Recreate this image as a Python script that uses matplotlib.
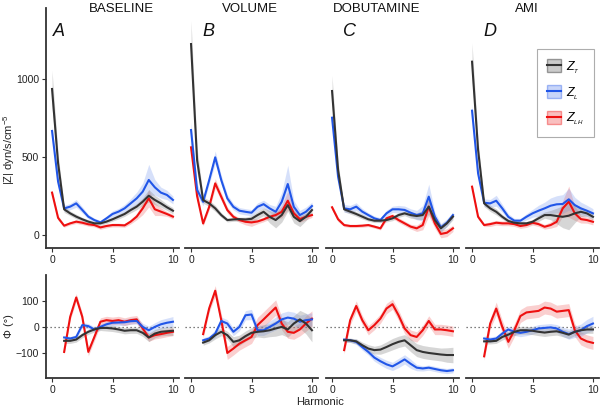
import matplotlib
matplotlib.use("Agg")
import matplotlib.pyplot as plt
from matplotlib.patches import Patch
from matplotlib.lines import Line2D

plt.rcParams['font.family'] = ['Liberation Sans', 'DejaVu Sans']
plt.rcParams['mathtext.fontset'] = 'custom'
plt.rcParams['mathtext.it'] = 'Liberation Sans:italic'
plt.rcParams['mathtext.rm'] = 'Liberation Sans'

# ---------------- data ----------------
conditions = ["BASELINE", "VOLUME", "DOBUTAMINE", "AMI"]
letters = ["A", "B", "C", "D"]
series_names = ["Z_T", "Z_L", "Z_LH"]

harm_mag = [0, 0.5, 1, 1.5, 2, 2.5, 3, 3.5, 4, 4.5, 5, 5.5, 6, 6.5, 7, 7.5, 8, 8.5, 9, 9.5, 10]
harm_ph = [1, 1.5, 2, 2.5, 3, 3.5, 4, 4.5, 5, 5.5, 6, 6.5, 7, 7.5, 8, 8.5, 9, 9.5, 10]

# |Z| magnitude (dyn/s/cm^-5)
magT_A = [936, 460, 165, 139, 118, 101, 86, 75, 75, 86, 101, 118, 135, 160, 182, 214, 252, 225, 203, 178, 156]
magL_A = [667, 342, 171, 182, 203, 161, 118, 96, 81, 107, 135, 150, 171, 203, 235, 278, 353, 306, 272, 257, 225]
magLH_A = [272, 110, 60, 75, 86, 79, 69, 64, 49, 58, 64, 64, 62, 86, 118, 171, 235, 165, 150, 135, 118]

magT_B = [1224, 480, 224, 203, 171, 128, 96, 100, 102, 100, 104, 128, 149, 117, 96, 128, 192, 117, 89, 117, 160]
magL_B = [673, 290, 213, 352, 498, 352, 235, 181, 156, 149, 143, 181, 198, 171, 149, 213, 327, 181, 128, 149, 186]
magLH_B = [562, 250, 74, 181, 331, 245, 160, 117, 96, 85, 81, 87, 100, 117, 128, 149, 220, 139, 102, 117, 128]

magT_C = [923, 417, 165, 150, 135, 118, 101, 92, 92, 96, 107, 128, 139, 128, 122, 128, 182, 96, 43, 75, 118]
magL_C = [752, 374, 171, 165, 182, 150, 128, 107, 96, 139, 165, 165, 161, 143, 128, 139, 246, 118, 49, 79, 128]
magLH_C = [178, 101, 64, 58, 58, 60, 64, 54, 43, 107, 122, 96, 75, 54, 43, 64, 182, 75, 7, 15, 43]

magT_D = [1111, 545, 203, 171, 149, 117, 90, 79, 75, 75, 85, 107, 128, 128, 122, 117, 124, 139, 149, 139, 117]
magL_D = [797, 395, 207, 203, 220, 171, 117, 92, 92, 117, 139, 156, 171, 188, 197, 199, 229, 192, 171, 156, 139]
magLH_D = [310, 117, 64, 70, 79, 75, 75, 70, 58, 64, 79, 70, 53, 64, 85, 171, 214, 139, 102, 96, 85]

# ribbon half-widths for |Z|
sdT_A = [120, 60, 20, 15, 15, 12, 12, 12, 12, 12, 12, 15, 15, 18, 20, 25, 40, 30, 25, 20, 20]
sdL_A = [30, 30, 20, 20, 25, 20, 15, 12, 12, 15, 20, 20, 25, 30, 40, 55, 100, 50, 35, 30, 25]
sdLH_A = [15, 15, 10, 10, 12, 12, 12, 12, 12, 12, 12, 12, 12, 15, 20, 40, 55, 40, 25, 15, 15]
sdT_B = [150, 80, 20, 20, 20, 15, 12, 12, 12, 15, 20, 25, 25, 40, 50, 45, 40, 40, 35, 25, 20]
sdL_B = [50, 40, 25, 25, 40, 30, 25, 20, 20, 20, 20, 25, 25, 25, 35, 60, 120, 40, 30, 30, 25]
sdLH_B = [40, 30, 15, 20, 30, 25, 20, 15, 15, 20, 25, 15, 15, 15, 20, 40, 60, 30, 20, 20, 15]
sdT_C = [100, 50, 15, 15, 15, 15, 12, 12, 12, 12, 15, 15, 15, 20, 20, 30, 50, 30, 25, 20, 20]
sdL_C = [30, 30, 25, 25, 25, 20, 15, 15, 15, 20, 20, 25, 25, 25, 30, 50, 80, 30, 25, 25, 20]
sdLH_C = [15, 15, 10, 10, 10, 10, 10, 10, 10, 15, 15, 15, 15, 15, 20, 30, 60, 30, 25, 25, 20]
sdT_D = [120, 60, 20, 20, 20, 15, 12, 12, 12, 12, 15, 20, 20, 30, 50, 70, 90, 60, 30, 20, 20]
sdL_D = [40, 30, 25, 25, 35, 25, 20, 15, 15, 20, 25, 35, 40, 50, 55, 60, 70, 50, 40, 35, 30]
sdLH_D = [20, 15, 10, 15, 15, 15, 15, 15, 15, 15, 15, 15, 15, 20, 30, 50, 100, 45, 25, 20, 20]

# phase (degrees)
phT_A = [-54, -54, -49, -32, -19, -10, -4, -4, -6, -10, -15, -13, -13, -23, -41, -26, -19, -17, -15]
phL_A = [-41, -45, -39, 7, 3, -10, 0, 10, 16, 17, 18, 22, 23, 0, -13, 0, 10, 16, 20]
phLH_A = [-97, 39, 114, 39, -97, -39, 20, 26, 23, 26, 20, 26, 29, -6, -41, -32, -28, -23, -19]

phT_B = [-61, -52, -32, -19, -32, -58, -52, -36, -23, -19, -17, -13, -6, 0, -10, 13, 29, 13, -13]
phL_B = [-52, -45, -26, 23, 13, -19, 0, 45, 48, -13, -13, 0, 13, 29, 36, 32, 20, 26, 29]
phLH_B = [-28, 72, 140, 26, -101, -84, -65, -52, -39, 7, 29, 52, 75, 13, -19, -23, -10, 13, 32]

phT_C = [-52, -52, -56, -71, -84, -90, -88, -78, -67, -58, -52, -71, -90, -97, -101, -104, -107, -109, -109]
phL_C = [-49, -52, -58, -78, -97, -119, -133, -145, -153, -140, -126, -143, -158, -161, -158, -163, -168, -171, -168]
phLH_C = [-90, 26, 81, 26, -13, 7, 32, 71, 88, 45, -6, -32, -39, -13, 23, -10, -10, -13, -17]

phT_D = [-56, -56, -54, -39, -30, -19, -13, -13, -15, -19, -22, -19, -17, -23, -30, -19, -13, -10, -10]
phL_D = [-45, -49, -45, -26, -10, -19, -23, -19, -13, -6, -4, -2, -6, -19, -28, -19, -13, 3, 13]
phLH_D = [-114, 13, 71, 0, -58, -13, 42, 56, 59, 62, 75, 71, 59, 62, 65, -13, -45, -56, -62]

# ribbon half-widths for phase
psdT_A = [10, 10, 10, 10, 10, 10, 10, 12, 12, 12, 12, 12, 12, 14, 16, 16, 16, 16, 18]
psdL_A = [8, 8, 8, 10, 10, 10, 10, 10, 12, 12, 12, 12, 12, 14, 16, 16, 18, 18, 20]
psdLH_A = [10, 12, 15, 15, 15, 15, 15, 15, 15, 15, 15, 15, 15, 15, 15, 15, 15, 15, 15]
psdT_B = [10, 10, 15, 15, 15, 20, 20, 20, 20, 20, 25, 25, 30, 30, 30, 30, 35, 40, 45]
psdL_B = [10, 10, 15, 15, 15, 15, 15, 18, 20, 20, 20, 22, 25, 25, 25, 25, 25, 25, 25]
psdLH_B = [15, 15, 20, 25, 25, 25, 25, 25, 25, 30, 30, 30, 30, 25, 25, 25, 25, 30, 30]
psdT_C = [8, 8, 10, 12, 15, 15, 18, 20, 22, 22, 22, 25, 25, 25, 25, 25, 25, 28, 30]
psdL_C = [8, 8, 10, 12, 12, 14, 15, 16, 16, 18, 18, 18, 12, 10, 10, 10, 10, 10, 10]
psdLH_C = [15, 18, 20, 18, 18, 18, 18, 20, 20, 20, 20, 20, 20, 20, 20, 20, 20, 20, 20]
psdT_D = [10, 10, 10, 12, 12, 14, 15, 15, 15, 15, 15, 15, 15, 15, 15, 15, 15, 15, 15]
psdL_D = [10, 10, 10, 12, 12, 14, 15, 15, 15, 15, 15, 15, 15, 18, 20, 22, 24, 26, 28]
psdLH_D = [15, 20, 25, 25, 25, 25, 25, 25, 25, 25, 25, 25, 25, 25, 25, 25, 25, 25, 25]

mag_ticks = [0, 500, 1000]
ph_ticks = [-100, 0, 100]
x_ticks = [0, 5, 10]

# ---------------- styling ----------------
colors = {"Z_T": "#333333", "Z_L": "#2156e8", "Z_LH": "#ee1010"}
fills = {"Z_T": ("#8c8c8c", 0.35), "Z_L": ("#6f93f0", 0.28), "Z_LH": ("#f06060", 0.30)}
labels = {"Z_T": r"$Z_{_T}$", "Z_L": r"$Z_{_L}$", "Z_LH": r"$Z_{_{LH}}$"}

mag = {
    "A": {"Z_T": (magT_A, sdT_A), "Z_L": (magL_A, sdL_A), "Z_LH": (magLH_A, sdLH_A)},
    "B": {"Z_T": (magT_B, sdT_B), "Z_L": (magL_B, sdL_B), "Z_LH": (magLH_B, sdLH_B)},
    "C": {"Z_T": (magT_C, sdT_C), "Z_L": (magL_C, sdL_C), "Z_LH": (magLH_C, sdLH_C)},
    "D": {"Z_T": (magT_D, sdT_D), "Z_L": (magL_D, sdL_D), "Z_LH": (magLH_D, sdLH_D)},
}
ph = {
    "A": {"Z_T": (phT_A, psdT_A), "Z_L": (phL_A, psdL_A), "Z_LH": (phLH_A, psdLH_A)},
    "B": {"Z_T": (phT_B, psdT_B), "Z_L": (phL_B, psdL_B), "Z_LH": (phLH_B, psdLH_B)},
    "C": {"Z_T": (phT_C, psdT_C), "Z_L": (phL_C, psdL_C), "Z_LH": (phLH_C, psdLH_C)},
    "D": {"Z_T": (phT_D, psdT_D), "Z_L": (phL_D, psdL_D), "Z_LH": (phLH_D, psdLH_D)},
}

W, H = 602, 409
fig = plt.figure(figsize=(W / 100, H / 100), dpi=100)

panel_left_px = [46, 185, 326, 466]
panel_w_px = 133
top_rect_y = (8, 248)
bot_rect_y = (275, 378)

def rect(xpx, ypx):
    return [xpx / W, 1 - ypx[1] / H, panel_w_px / W, (ypx[1] - ypx[0]) / H]

title_x = [121, 250, 377, 527]
letter_x = [53, 202, 343, 483]
axis_col = "#333333"
draw_order = ["Z_LH", "Z_L", "Z_T"]

def style_axis(ax, first, yticks, ylim):
    ax.set_xlim(-0.5, 10.5)
    ax.set_ylim(*ylim)
    for s in ["top", "right"]:
        ax.spines[s].set_visible(False)
    ax.spines["bottom"].set_color(axis_col)
    ax.spines["bottom"].set_linewidth(1.3)
    ax.set_xticks(x_ticks)
    ax.tick_params(axis="x", length=3, width=0.8, color=axis_col, labelsize=7.5,
                   labelcolor="#222222", pad=2)
    if first:
        ax.spines["left"].set_color(axis_col)
        ax.spines["left"].set_linewidth(1.3)
        ax.set_yticks(yticks)
        ax.tick_params(axis="y", length=3, width=0.8, color=axis_col, labelsize=7.5,
                       labelcolor="#222222", pad=2)
    else:
        ax.spines["left"].set_visible(False)
        ax.set_yticks([])
    ax.patch.set_alpha(0)

for i, key in enumerate(letters):
    axt = fig.add_axes(rect(panel_left_px[i], top_rect_y))
    axb = fig.add_axes(rect(panel_left_px[i], bot_rect_y))
    style_axis(axt, i == 0, mag_ticks, (-83, 1455))
    style_axis(axb, i == 0, ph_ticks, (-198, 201))
    axb.axhline(0, color="#555555", lw=0.9, ls=(0, (1, 2.2)), zorder=1)

    for s in draw_order:
        y, sd = mag[key][s]
        fc, al = fills[s]
        axt.fill_between(harm_mag, [a - b for a, b in zip(y, sd)],
                         [a + b for a, b in zip(y, sd)], color=fc, alpha=al, lw=0, zorder=2)
        y, sd = ph[key][s]
        axb.fill_between(harm_ph, [a - b for a, b in zip(y, sd)],
                         [a + b for a, b in zip(y, sd)], color=fc, alpha=al, lw=0, zorder=2)
    for s in draw_order:
        y, _ = mag[key][s]
        axt.plot(harm_mag, y, color=colors[s], lw=1.5, zorder=3, solid_joinstyle="round")
        y, _ = ph[key][s]
        axb.plot(harm_ph, y, color=colors[s], lw=1.5, zorder=3, solid_joinstyle="round")

    fig.text(title_x[i] / W, 1 - 9 / H, conditions[i], ha="center", va="center",
             fontsize=9.5, color="#111111")
    fig.text(letter_x[i] / W, 1 - 31 / H, key, ha="left", va="center",
             fontsize=13, style="italic", color="#111111")

fig.text(9 / W, 1 - 150 / H, r"|Z| dyn/s/cm$^{-5}$", rotation=90, ha="center",
         va="center", fontsize=8, color="#222222")
fig.text(9 / W, 1 - 326 / H, "Φ (°)", rotation=90, ha="center", va="center",
         fontsize=8, color="#222222")
fig.text(320 / W, 1 - 402 / H, "Harmonic", ha="center", va="center", fontsize=8,
         color="#222222")

handles = []
for s in series_names:
    fc, al = fills[s]
    p = Patch(facecolor=fc, alpha=al + 0.1, edgecolor=colors[s], linewidth=1.0)
    l = Line2D([], [], color=colors[s], lw=1.5)
    handles.append((p, l))
leg = fig.legend(handles, [labels[s] for s in series_names],
                 loc="upper right", bbox_to_anchor=(594 / W, 1 - 49 / H),
                 frameon=True, fancybox=False, edgecolor="#999999",
                 fontsize=9, handlelength=1.1, handleheight=1.2,
                 labelspacing=0.75, borderpad=0.8, handletextpad=0.4,
                 borderaxespad=0)
leg.get_frame().set_linewidth(0.8)

fig.savefig("out.png", dpi=100)
